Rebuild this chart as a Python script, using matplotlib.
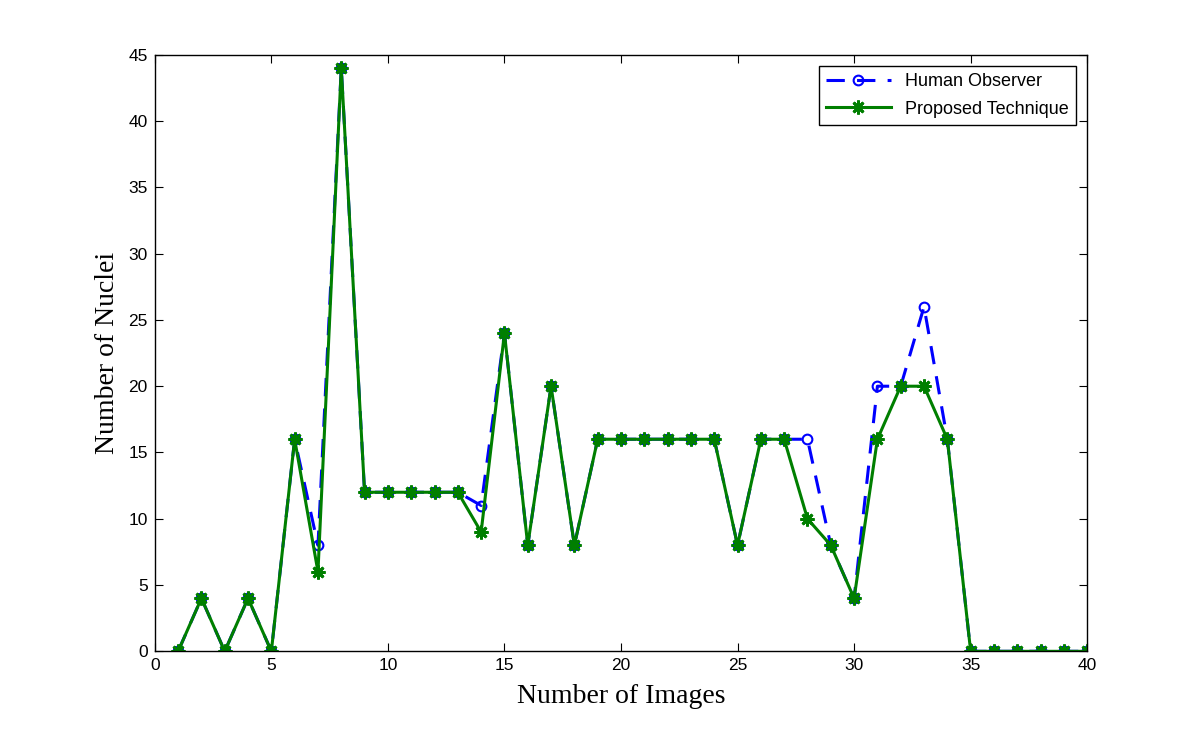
import matplotlib
matplotlib.use('Agg')
from matplotlib import pyplot as plt

images = list(range(1, 41))
human = [0, 4, 0, 4, 0, 16, 8, 44, 12, 12, 12, 12, 12, 11, 24, 8, 20, 8,
         16, 16, 16, 16, 16, 16, 8, 16, 16, 16, 8, 4, 20, 20, 26, 16,
         0, 0, 0, 0, 0, 0]
proposed = [0, 4, 0, 4, 0, 16, 6, 44, 12, 12, 12, 12, 12, 9, 24, 8, 20, 8,
            16, 16, 16, 16, 16, 16, 8, 16, 16, 10, 8, 4, 16, 20, 20, 16,
            0, 0, 0, 0, 0, 0]

plt.rcParams['font.family'] = 'Liberation Sans'

fig = plt.figure(figsize=(12, 7.31), dpi=100)
ax = fig.add_axes([0.129, 0.109, 0.777, 0.816])

ax.plot(images, human, color='#0000ff', linestyle='--', dashes=(6, 4), linewidth=2.2,
        marker='o', markersize=7, markerfacecolor='none', markeredgewidth=1.5,
        label='Human Observer')
ax.plot(images, proposed, color='#007f00', linestyle='-', linewidth=2.2,
        marker=(8, 2, 0), markersize=10, markeredgewidth=2, label='Proposed Technique')

ax.set_xlim(0, 40)
ax.set_ylim(0, 45)
ax.set_xticks(range(0, 41, 5))
ax.set_yticks(range(0, 46, 5))
ax.tick_params(direction='in', labelsize=12.5, top=True, right=True, length=6, pad=5)
for s in ax.spines.values():
    s.set_linewidth(1)

ax.set_xlabel('Number of Images', fontsize=20, family='Liberation Serif', labelpad=8)
ax.set_ylabel('Number of Nuclei', fontsize=20, family='Liberation Serif', labelpad=6)

leg = ax.legend(loc='upper right', fontsize=13, fancybox=False, edgecolor='black',
                framealpha=1, handlelength=3.6, borderaxespad=0.6, labelspacing=0.6)
leg.get_frame().set_linewidth(1)

fig.savefig('out.png', dpi=100)
